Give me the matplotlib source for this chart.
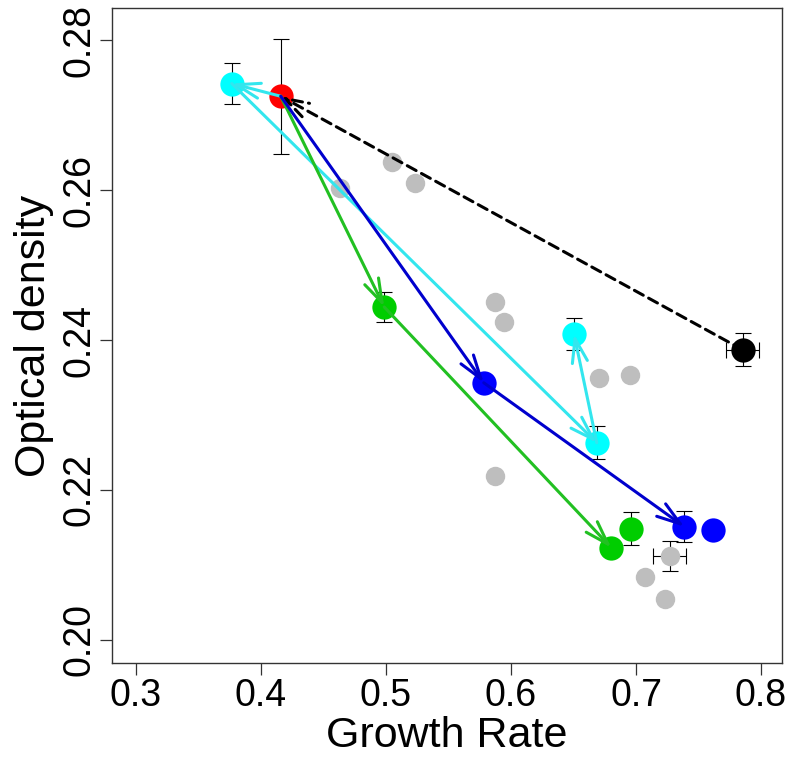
import matplotlib
matplotlib.use("Agg")
import matplotlib.pyplot as plt
from matplotlib.patches import FancyArrowPatch, ArrowStyle

plt.rcParams['font.family'] = ['Liberation Sans', 'DejaVu Sans']

# background (grey) points
gray_x = [0.463, 0.505, 0.523, 0.587, 0.594, 0.670, 0.695, 0.587, 0.727, 0.707, 0.723]
gray_y = [0.2603, 0.2638, 0.2610, 0.2451, 0.2424, 0.2349, 0.2353, 0.2218, 0.2112, 0.2084, 0.2055]
gray_xerr = [0, 0, 0, 0, 0, 0, 0, 0, 0.0131, 0, 0]
gray_yerr = [0, 0, 0, 0, 0, 0, 0, 0, 0.0020, 0, 0]

# starting point
red_x, red_y, red_yerr = 0.4158, 0.2725, 0.0077

# trajectories
cyan_x = [0.3766, 0.6686, 0.6504]
cyan_y = [0.2742, 0.2263, 0.2408]
cyan_yerr = [0.0027, 0.0022, 0.0021]

green_x = [0.4986, 0.6803, 0.6957]
green_y = [0.2444, 0.2123, 0.2148]
green_yerr = [0.0020, 0.0, 0.0022]

blue_x = [0.5782, 0.7387, 0.7613]
blue_y = [0.2343, 0.2151, 0.2147]
blue_yerr = [0.0, 0.0021, 0.0]

black_x, black_y = 0.7853, 0.2387
black_xerr, black_yerr = 0.0133, 0.0022

fig = plt.figure(figsize=(7.88, 7.68), dpi=100)
ax = fig.add_axes([0.1418, 0.1367, 0.8506, 0.8529])

ebkw = dict(fmt='none', ecolor='black', elinewidth=0.8, capsize=6, capthick=0.8, zorder=2)

ax.errorbar(gray_x, gray_y, xerr=gray_xerr, yerr=gray_yerr, **ebkw)
ax.plot(gray_x, gray_y, 'o', color='#BEBEBE', ms=14, mec='none', zorder=3)

ax.errorbar([red_x], [red_y], yerr=[red_yerr], **ebkw)
ax.errorbar(cyan_x, cyan_y, yerr=cyan_yerr, **ebkw)
ax.errorbar(green_x, green_y, yerr=green_yerr, **ebkw)
ax.errorbar(blue_x, blue_y, yerr=blue_yerr, **ebkw)
ax.errorbar([black_x], [black_y], xerr=[black_xerr], yerr=[black_yerr], **ebkw)

ms = 17.5
ax.plot([red_x], [red_y], 'o', color='#FF0000', ms=ms, mec='none', zorder=4)
ax.plot(cyan_x, cyan_y, 'o', color='#00FFFF', ms=ms, mec='none', zorder=4)
ax.plot(green_x, green_y, 'o', color='#00CD00', ms=ms, mec='none', zorder=4)
ax.plot(blue_x, blue_y, 'o', color='#0000FF', ms=ms, mec='none', zorder=4)
ax.plot([black_x], [black_y], 'o', color='black', ms=ms, mec='none', zorder=4)

head = ArrowStyle('->', head_length=17, head_width=5.5)


def arrow(x0, y0, x1, y1, color, ls='-'):
    a = FancyArrowPatch((x0, y0), (x1, y1), arrowstyle=head, mutation_scale=1,
                        color=color, lw=2.2, linestyle=ls, shrinkA=0, shrinkB=0,
                        zorder=5)
    ax.add_patch(a)


# paths from the start point
arrow(black_x, black_y, red_x, red_y, 'black', ls=(0, (3.3, 2)))
for xs, ys, col in [(cyan_x, cyan_y, '#33E6EE'), (green_x[:2], green_y[:2], '#22C022'),
                    (blue_x[:2], blue_y[:2], '#0000CD')]:
    px, py = red_x, red_y
    for x, y in zip(xs, ys):
        arrow(px, py, x, y, col)
        px, py = x, y

ax.set_xlim(0.2806, 0.8168)
ax.set_ylim(0.19693, 0.28427)
ax.set_xticks([0.3, 0.4, 0.5, 0.6, 0.7, 0.8])
ax.set_xticklabels(['0.3', '0.4', '0.5', '0.6', '0.7', '0.8'])
ax.set_yticks([0.20, 0.22, 0.24, 0.26, 0.28])
ax.set_yticklabels(['0.20', '0.22', '0.24', '0.26', '0.28'], rotation=90, va='center')

ax.tick_params(direction='out', length=8.5, width=0.9, color='#333333', labelsize=27, pad=2)
for s in ax.spines.values():
    s.set_color('#333333')
    s.set_linewidth(1.0)

ax.set_xlabel('Growth Rate', fontsize=31, labelpad=2)
ax.set_ylabel('Optical density', fontsize=31, labelpad=5)

fig.savefig('out.png', dpi=100)
